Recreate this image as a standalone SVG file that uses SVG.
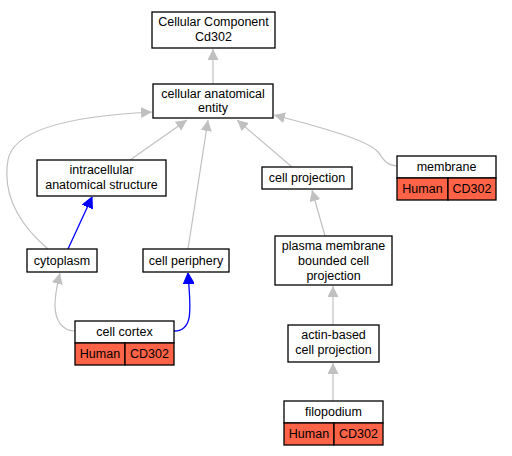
<svg xmlns="http://www.w3.org/2000/svg" width="512" height="456" viewBox="0 0 512 456">
<style>
text{font-family:"Liberation Sans",Arial,sans-serif;font-size:12.5px;text-anchor:middle;fill:#000}
.n{fill:#fff;stroke:#000;stroke-width:1.3}
.h{fill:#ff6347;stroke:#000;stroke-width:1.3}
.g{fill:none;stroke:#c0c0c0;stroke-width:1.2}
.b{fill:none;stroke:#0000ff;stroke-width:1.3}
</style>
<defs>
<marker id="ag" viewBox="0 0 10 10" refX="10" refY="5" markerWidth="11" markerHeight="11" markerUnits="userSpaceOnUse" orient="auto"><path d="M0,0L10,5L0,10z" fill="#c0c0c0"/></marker>
<marker id="ab" viewBox="0 0 10 10" refX="10" refY="5" markerWidth="11" markerHeight="11" markerUnits="userSpaceOnUse" orient="auto"><path d="M0,0L10,5L0,10z" fill="#0000ff" stroke="#0000ff"/></marker>
</defs>
<rect width="512" height="456" fill="#fff"/>
<g id="edges">
<path class="g" d="M213,84L213,49" marker-end="url(#ag)"/>
<path class="g" d="M130,160L187,120" marker-end="url(#ag)"/>
<path class="g" d="M188,249L208,120" marker-end="url(#ag)"/>
<path class="g" d="M292,167L237,120" marker-end="url(#ag)"/>
<path class="g" d="M48,249C20,225 2,195 8,160C14,125 90,115 152,112" marker-end="url(#ag)"/>
<path class="g" d="M397,166C385,165 383,158 378,152C368,140 320,127 274,115" marker-end="url(#ag)"/>
<path class="b" d="M68,249L92,197" marker-end="url(#ab)"/>
<path class="b" d="M174,331C195,331 190,305 188,273" marker-end="url(#ab)"/>
<path class="g" d="M75,331C62,331 55,320 55,305C55,295 57,285 60,273" marker-end="url(#ag)"/>
<path class="g" d="M325,236L312,190" marker-end="url(#ag)"/>
<path class="g" d="M333,325L333,286" marker-end="url(#ag)"/>
<path class="g" d="M333,401L333,363" marker-end="url(#ag)"/>
</g>
<g id="n_root"><rect class="n" x="152" y="12" width="123" height="36"/><text x="213.5" y="26">Cellular Component</text><text x="213.5" y="41">Cd302</text></g>
<g id="n_cae"><rect class="n" x="153" y="84" width="120" height="34"/><text x="213" y="98">cellular anatomical</text><text x="213" y="112">entity</text></g>
<g id="n_ias"><rect class="n" x="37" y="160" width="129" height="36"/><text x="101.5" y="174">intracellular</text><text x="101.5" y="189">anatomical structure</text></g>
<g id="n_cyto"><rect class="n" x="27" y="249" width="70" height="23"/><text x="62" y="265">cytoplasm</text></g>
<g id="n_cp"><rect class="n" x="143" y="249" width="86" height="23"/><text x="186" y="265">cell periphery</text></g>
<g id="n_cproj"><rect class="n" x="262" y="167" width="90" height="22"/><text x="307" y="182">cell projection</text></g>
<g id="n_mem"><rect class="n" x="397" y="156" width="99" height="22"/><rect class="h" x="397" y="178" width="51" height="22"/><rect class="h" x="448" y="178" width="48" height="22"/><text x="446.5" y="171">membrane</text><text x="422.5" y="193">Human</text><text x="472" y="193">CD302</text></g>
<g id="n_pmbcp"><rect class="n" x="275" y="236" width="117" height="49"/><text x="333.5" y="250">plasma membrane</text><text x="333.5" y="265">bounded cell</text><text x="333.5" y="280">projection</text></g>
<g id="n_cc"><rect class="n" x="75" y="321" width="99" height="22"/><rect class="h" x="75" y="343" width="50" height="22"/><rect class="h" x="125" y="343" width="49" height="22"/><text x="124.5" y="336">cell cortex</text><text x="100" y="358">Human</text><text x="149.5" y="358">CD302</text></g>
<g id="n_abcp"><rect class="n" x="288" y="325" width="91" height="37"/><text x="333.5" y="339">actin-based</text><text x="333.5" y="354">cell projection</text></g>
<g id="n_filo"><rect class="n" x="284" y="401" width="99" height="22"/><rect class="h" x="284" y="423" width="50" height="22"/><rect class="h" x="334" y="423" width="49" height="22"/><text x="333.5" y="416">filopodium</text><text x="309" y="438">Human</text><text x="358.5" y="438">CD302</text></g>
</svg>
